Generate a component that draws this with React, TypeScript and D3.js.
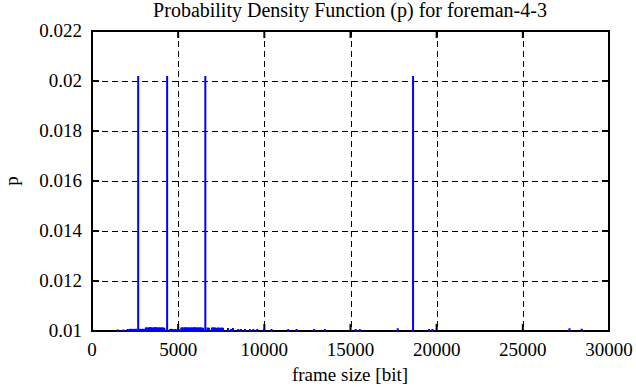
import React from 'react';
import { scaleLinear } from 'd3';

// frame sizes [bit] and their probabilities (impulses)
const peakSizes = [2680, 4360, 6576, 18630];
const peakP = [0.0202, 0.0202, 0.0202, 0.0202];

const smallSizes = [
    1500, 1820, 2060, 2140, 2230, 2310, 2400, 2480, 2560, 2790, 2870, 2950, 3040, 3120, 3200, 3290,
    3370, 3450, 3540, 3620, 3700, 3790, 3870, 3950, 4040, 4120, 4200, 4520, 4600, 4690, 4770, 4860,
    4950, 5040, 5180, 5260, 5350, 5430, 5520, 5600, 5690, 5770, 5860, 5940, 6030, 6110, 6200, 6280,
    6370, 6450, 6700, 6790, 6960, 7050, 7140, 7230, 7320, 7410, 7500, 7600, 7890, 8064, 8180, 8488,
    8644, 8876, 9166, 9357, 9589, 9994, 10420, 11383, 11869, 12889, 13511, 15300, 15540, 17740,
    19555, 19750, 27705, 28420
];
const smallP = [
    0.01006, 0.01006, 0.01008, 0.01008, 0.01009, 0.01008, 0.01009, 0.01008, 0.01009, 0.01009, 0.01008, 0.01009, 0.01008, 0.01014, 0.01015, 0.01014,
    0.01016, 0.01015, 0.01014, 0.01015, 0.01016, 0.01014, 0.01015, 0.01014, 0.01015, 0.01014, 0.01013, 0.01008, 0.01009, 0.01008, 0.01007, 0.01008,
    0.01007, 0.01008, 0.01014, 0.01015, 0.01014, 0.01016, 0.01014, 0.01015, 0.01014, 0.01015, 0.01014, 0.01016, 0.01014, 0.01015, 0.01014, 0.01015,
    0.01014, 0.01013, 0.01014, 0.01013, 0.01014, 0.01015, 0.01014, 0.01013, 0.01014, 0.01013, 0.01014, 0.01013, 0.01012, 0.01008, 0.01012, 0.01008,
    0.01008, 0.01008, 0.01008, 0.01008, 0.01008, 0.01010, 0.01008, 0.01008, 0.01008, 0.01008, 0.01008, 0.01008, 0.01008, 0.01011,
    0.01008, 0.01008, 0.01011, 0.01009
];

const xTicks = [0, 5000, 10000, 15000, 20000, 25000, 30000];
const yTicks = [0.01, 0.012, 0.014, 0.016, 0.018, 0.02, 0.022];

const font = "'Liberation Serif', 'DejaVu Serif', serif";

const App = () => {
    const width = 636, height = 387;
    const margin = { top: 31, right: 27, bottom: 56, left: 92 };
    const x = scaleLinear().domain([0, 30000]).range([margin.left, width - margin.right]);
    const y = scaleLinear().domain([0.01, 0.022]).range([height - margin.bottom, margin.top]);
    const y0 = y(0.01);
    const px = (v: number) => Math.round(v) + 0.5;

    let impulses = smallSizes.map((s, i) => ({ s, p: smallP[i] })).concat(peakSizes.map((s, i) => ({ s, p: peakP[i] })));

    return (
        <svg width={width} height={height} style={{ position: 'absolute', left: 0, top: 0, fontFamily: font }}>
            <rect width={width} height={height} fill="white" />
            <text x={350} y={17} fontSize={20} textAnchor="middle" style={{ fontFamily: font }}>Probability Density Function (p) for foreman-4-3</text>

            {/* grid */}
            {xTicks.slice(1, -1).map((t, i) =>
                <line key={'gx' + i} x1={px(x(t))} x2={px(x(t))} y1={margin.top} y2={y0} stroke="black" strokeWidth={1} strokeDasharray="6,4" />
            )}
            {yTicks.slice(1, -1).map((t, i) =>
                <line key={'gy' + i} x1={margin.left} x2={width - margin.right} y1={px(y(t))} y2={px(y(t))} stroke="black" strokeWidth={1} strokeDasharray="6,4" />
            )}

            {/* ticks, mirrored */}
            {xTicks.map((t, i) =>
                <g key={'tx' + i}>
                    <line x1={x(t)} x2={x(t)} y1={y0} y2={y0 - 7} stroke="black" strokeWidth={2} />
                    <line x1={x(t)} x2={x(t)} y1={margin.top} y2={margin.top + 7} stroke="black" strokeWidth={2} />
                    <text x={x(t)} y={y0 + 25} fontSize={19} textAnchor="middle" style={{ fontFamily: font }}>{t}</text>
                </g>
            )}
            {yTicks.map((t, i) =>
                <g key={'ty' + i}>
                    <line x1={margin.left} x2={margin.left + 7} y1={y(t)} y2={y(t)} stroke="black" strokeWidth={2} />
                    <line x1={width - margin.right} x2={width - margin.right - 7} y1={y(t)} y2={y(t)} stroke="black" strokeWidth={2} />
                    <text x={margin.left - 10} y={y(t) + 6} fontSize={19} textAnchor="end" style={{ fontFamily: font }}>{+t.toFixed(3)}</text>
                </g>
            )}

            <rect x={margin.left} y={margin.top} width={width - margin.left - margin.right} height={y0 - margin.top} fill="none" stroke="black" strokeWidth={2} />

            {/* impulses */}
            {impulses.map((d, i) =>
                <line key={'imp' + i} x1={x(d.s)} x2={x(d.s)} y1={y0 + 1} y2={y(d.p)} stroke="#0000ff" strokeWidth={2} />
            )}

            <text x={350} y={381} fontSize={19} textAnchor="middle" style={{ fontFamily: font }}>frame size [bit]</text>
            <text transform={`translate(18,${(margin.top + y0) / 2}) rotate(-90)`} fontSize={19} textAnchor="middle" style={{ fontFamily: font }}>p</text>
        </svg>
    );
};

export default App;
